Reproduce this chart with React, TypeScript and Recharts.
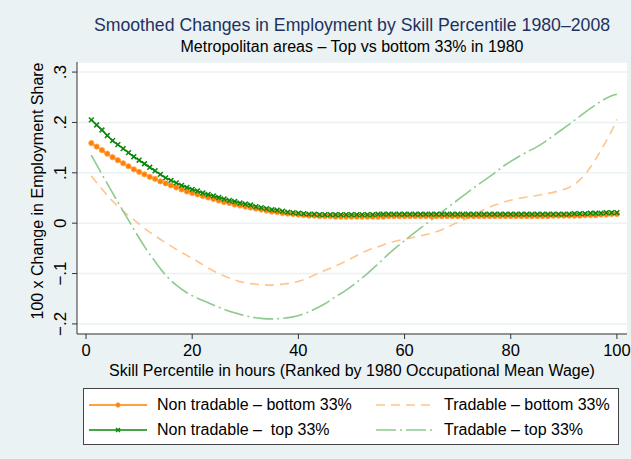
import { LineChart, Line, XAxis, YAxis, CartesianGrid, Label } from 'recharts';

const FONT = '"Liberation Sans", Arial, Helvetica, sans-serif';
const BG = '#eaf2f3';
const ORANGE = '#ff7f00';
const GREEN = '#0a870a';
const LIGHT_ORANGE = '#ffc48e';
const LIGHT_GREEN = '#8fca8f';

// skill percentiles (x positions of the smoothed series)
const percentile = [
  1, 2, 3, 4, 5, 6, 7, 8, 9, 10, 11, 12, 13, 14, 15, 16, 17, 18, 19, 20,
  21, 22, 23, 24, 25, 26, 27, 28, 29, 30, 31, 32, 33, 34, 35, 36, 37, 38, 39, 40,
  41, 42, 43, 44, 45, 46, 47, 48, 49, 50, 51, 52, 53, 54, 55, 56, 57, 58, 59, 60,
  61, 62, 63, 64, 65, 66, 67, 68, 69, 70, 71, 72, 73, 74, 75, 76, 77, 78, 79, 80,
  81, 82, 83, 84, 85, 86, 87, 88, 89, 90, 91, 92, 93, 94, 95, 96, 97, 98, 99, 100,
];

const nonTradableBottom = [
  0.159, 0.152, 0.145, 0.138, 0.131, 0.125, 0.119, 0.113, 0.107, 0.102,
  0.097, 0.092, 0.088, 0.083, 0.079, 0.075, 0.071, 0.067, 0.063, 0.06,
  0.057, 0.054, 0.051, 0.048, 0.045, 0.042, 0.04, 0.037, 0.035, 0.033,
  0.031, 0.029, 0.027, 0.025, 0.023, 0.022, 0.02, 0.019, 0.018, 0.017,
  0.016, 0.015, 0.015, 0.014, 0.014, 0.014, 0.013, 0.013, 0.013, 0.013,
  0.013, 0.013, 0.013, 0.013, 0.013, 0.013, 0.014, 0.014, 0.014, 0.014,
  0.014, 0.014, 0.014, 0.014, 0.014, 0.014, 0.014, 0.014, 0.014, 0.014,
  0.014, 0.014, 0.014, 0.014, 0.014, 0.014, 0.014, 0.014, 0.014, 0.014,
  0.014, 0.014, 0.014, 0.014, 0.014, 0.014, 0.014, 0.015, 0.015, 0.015,
  0.015, 0.015, 0.015, 0.016, 0.016, 0.016, 0.017, 0.017, 0.018, 0.018,
];

const nonTradableTop = [
  0.205, 0.195, 0.185, 0.174, 0.164, 0.156, 0.148, 0.14, 0.132, 0.125,
  0.118, 0.111, 0.104, 0.097, 0.09, 0.085, 0.08, 0.075, 0.071, 0.067,
  0.064, 0.06, 0.057, 0.054, 0.051, 0.048, 0.045, 0.043, 0.04, 0.038,
  0.036, 0.033, 0.031, 0.029, 0.027, 0.026, 0.024, 0.022, 0.021, 0.02,
  0.019, 0.018, 0.018, 0.017, 0.017, 0.017, 0.017, 0.017, 0.017, 0.017,
  0.017, 0.017, 0.017, 0.017, 0.018, 0.018, 0.018, 0.018, 0.018, 0.018,
  0.018, 0.018, 0.018, 0.018, 0.018, 0.018, 0.018, 0.018, 0.018, 0.018,
  0.018, 0.018, 0.018, 0.018, 0.018, 0.018, 0.018, 0.018, 0.018, 0.018,
  0.018, 0.018, 0.018, 0.018, 0.018, 0.018, 0.018, 0.018, 0.018, 0.018,
  0.018, 0.019, 0.019, 0.019, 0.02, 0.02, 0.02, 0.021, 0.021, 0.021,
];

// tradable curves read every other percentile
const tradablePct = [
  1, 3, 5, 7, 9, 11, 13, 15, 17, 19, 21, 23, 25, 27, 29, 31, 33, 35, 37, 39,
  41, 43, 45, 47, 49, 51, 53, 55, 57, 59, 61, 63, 65, 67, 69, 71, 73, 75, 77, 79,
  81, 83, 85, 87, 89, 91, 93, 95, 97, 99, 100,
];

const tradableBottom = [
  0.094, 0.068, 0.044, 0.024, 0.007, -0.01, -0.025, -0.039, -0.052, -0.064,
  -0.076, -0.089, -0.1, -0.109, -0.116, -0.12, -0.122, -0.123, -0.121, -0.118,
  -0.112, -0.103, -0.094, -0.085, -0.075, -0.064, -0.054, -0.047, -0.039, -0.034,
  -0.03, -0.025, -0.02, -0.013, -0.003, 0.006, 0.016, 0.027, 0.036, 0.043,
  0.048, 0.052, 0.055, 0.059, 0.064, 0.071, 0.086, 0.111, 0.145, 0.183, 0.206,
];

const tradableTop = [
  0.135, 0.097, 0.06, 0.024, -0.012, -0.046, -0.076, -0.103, -0.123, -0.138,
  -0.149, -0.158, -0.167, -0.175, -0.181, -0.186, -0.189, -0.19, -0.189, -0.186,
  -0.18, -0.171, -0.16, -0.146, -0.133, -0.117, -0.1, -0.081, -0.061, -0.043,
  -0.026, -0.01, 0.006, 0.022, 0.038, 0.054, 0.07, 0.085, 0.1, 0.116,
  0.129, 0.141, 0.152, 0.166, 0.181, 0.196, 0.212, 0.228, 0.242, 0.253, 0.256,
];

const xTicks = [0, 20, 40, 60, 80, 100];
const yTicks = [-0.2, -0.1, 0, 0.1, 0.2, 0.3];
const yTickLabels = ['\u2212.2', '\u2212.1', '0', '.1', '.2', '.3'];

const title = 'Smoothed Changes in Employment by Skill Percentile 1980\u20132008';
const subtitle = 'Metropolitan areas \u2013 Top vs bottom 33% in 1980';
const xTitle = 'Skill Percentile in hours (Ranked by 1980 Occupational Mean Wage)';
const yTitle = '100 x Change in Employment Share';

const data = percentile.map((p, i) => {
  const j = tradablePct.indexOf(p);
  return {
    p,
    ntBottom: nonTradableBottom[i],
    ntTop: nonTradableTop[i],
    tBottom: j >= 0 ? tradableBottom[j] : null,
    tTop: j >= 0 ? tradableTop[j] : null,
  };
});

const OrangeDot = (props: any) => {
  const { cx, cy, index } = props;
  if (cx == null || cy == null) return <g key={index} />;
  return <circle key={index} cx={cx} cy={cy} r={2.6} fill={ORANGE} stroke="#ffa24a" strokeWidth={0.9} />;
};

const GreenDot = (props: any) => {
  const { cx, cy, index } = props;
  if (cx == null || cy == null) return <g key={index} />;
  const s = 2.4;
  return (
    <path
      key={index}
      d={`M${cx - s},${cy - s}L${cx + s},${cy + s}M${cx - s},${cy + s}L${cx + s},${cy - s}`}
      stroke={GREEN}
      strokeWidth={1.5}
      fill="none"
    />
  );
};

const YTick = (props: any) => {
  const { y, payload } = props;
  const i = yTicks.indexOf(payload.value);
  const x = 66;
  return (
    <text x={x} y={y} transform={`rotate(-90 ${x} ${y})`} textAnchor="middle" fontSize={17} fill="#000" fontFamily={FONT}>
      {yTickLabels[i]}
    </text>
  );
};

const YLabel = (props: any) => {
  const { viewBox } = props;
  const cy = viewBox.y + viewBox.height / 2 - 7;
  const x = 43;
  return (
    <text x={x} y={cy} transform={`rotate(-90 ${x} ${cy})`} textAnchor="middle" fontSize={16} fill="#000" fontFamily={FONT}>
      {yTitle}
    </text>
  );
};

const legendItems = [
  { label: 'Non tradable \u2013 bottom 33%', color: ORANGE, dash: undefined, marker: 'o', left: 89, row: 0 },
  { label: 'Tradable \u2013 bottom 33%', color: LIGHT_ORANGE, dash: '9 6', marker: '', left: 376, row: 0 },
  { label: 'Non tradable \u2013  top 33%', color: GREEN, dash: undefined, marker: 'x', left: 89, row: 1 },
  { label: 'Tradable \u2013 top 33%', color: LIGHT_GREEN, dash: '20 4 2 4', marker: '', left: 376, row: 1 },
];

const Legend = () => (
  <div
    style={{
      position: 'absolute', left: 83, top: 388, width: 536, height: 57,
      boxSizing: 'border-box', border: '1px solid #444', background: '#fff',
    }}
  >
    {legendItems.map((it) => {
      const top = it.row === 0 ? 6 : 31;
      return (
        <div key={it.label} style={{ position: 'absolute', left: it.left - 84, top, height: 20, display: 'flex', alignItems: 'center' }}>
          <svg width={60} height={20} style={{ display: 'block' }}>
            <line x1={0} y1={10} x2={58} y2={10} stroke={it.color} strokeWidth={1.6} strokeDasharray={it.dash} />
            {it.marker === 'o' && <circle cx={29} cy={10} r={2.3} fill={ORANGE} stroke="#ffa24a" strokeWidth={0.8} />}
            {it.marker === 'x' && <path d="M27,8L31,12M27,12L31,8" stroke={GREEN} strokeWidth={1.4} />}
          </svg>
          <span style={{ marginLeft: 8, fontSize: 16, fontFamily: FONT, color: '#000', whiteSpace: 'pre' }}>{it.label}</span>
        </div>
      );
    })}
  </div>
);

export default function App() {
  return (
    <div style={{ position: 'absolute', left: 0, top: 0, width: 631, height: 459, background: BG, fontFamily: FONT }}>
      <div style={{ position: 'absolute', left: 52, width: 600, top: 14, lineHeight: '22px', textAlign: 'center', fontSize: 17.7, color: '#1f3160', whiteSpace: 'nowrap' }}>
        {title}
      </div>
      <div style={{ position: 'absolute', left: 52, width: 600, top: 37, lineHeight: '20px', textAlign: 'center', fontSize: 16, color: '#000', whiteSpace: 'nowrap' }}>
        {subtitle}
      </div>
      <div style={{ position: 'absolute', left: 52, width: 600, top: 361, lineHeight: '20px', textAlign: 'center', fontSize: 16, color: '#000', whiteSpace: 'nowrap' }}>
        {xTitle}
      </div>
      <div style={{ position: 'absolute', left: 0, top: 0 }}>
        <LineChart width={631} height={459} data={data} margin={{ top: 62, right: 4, left: 0, bottom: 85 }}>
          <CartesianGrid horizontal vertical={false} stroke={BG} strokeWidth={1.5} fill="#fff" />
          <XAxis
            dataKey="p"
            type="number"
            domain={[-1.7, 101.9]}
            allowDataOverflow
            ticks={xTicks}
            interval={0}
            height={40}
            tickSize={5}
            tickMargin={5}
            axisLine={{ stroke: '#333' }}
            tickLine={{ stroke: '#333' }}
            tick={{ fontSize: 16.5, fill: '#000', fontFamily: FONT }}
          />
          <YAxis
            type="number"
            domain={[-0.22, 0.32]}
            allowDataOverflow
            ticks={yTicks}
            interval={0}
            width={77}
            tickSize={5}
            axisLine={{ stroke: '#333' }}
            tickLine={{ stroke: '#333' }}
            tick={<YTick />}
          >
            <Label content={<YLabel />} />
          </YAxis>
          <Line
            dataKey="ntBottom"
            type="monotone"
            stroke={ORANGE}
            strokeWidth={1.6}
            dot={<OrangeDot />}
            activeDot={false}
            isAnimationActive={false}
          />
          <Line
            dataKey="ntTop"
            type="monotone"
            stroke={GREEN}
            strokeWidth={1.6}
            dot={<GreenDot />}
            activeDot={false}
            isAnimationActive={false}
          />
          <Line
            dataKey="tBottom"
            type="monotone"
            stroke={LIGHT_ORANGE}
            strokeWidth={1.6}
            strokeDasharray="9 6"
            connectNulls
            dot={false}
            activeDot={false}
            isAnimationActive={false}
          />
          <Line
            dataKey="tTop"
            type="monotone"
            stroke={LIGHT_GREEN}
            strokeWidth={1.6}
            strokeDasharray="20 4 2 4"
            connectNulls
            dot={false}
            activeDot={false}
            isAnimationActive={false}
          />
        </LineChart>
      </div>
      <Legend />
    </div>
  );
}
